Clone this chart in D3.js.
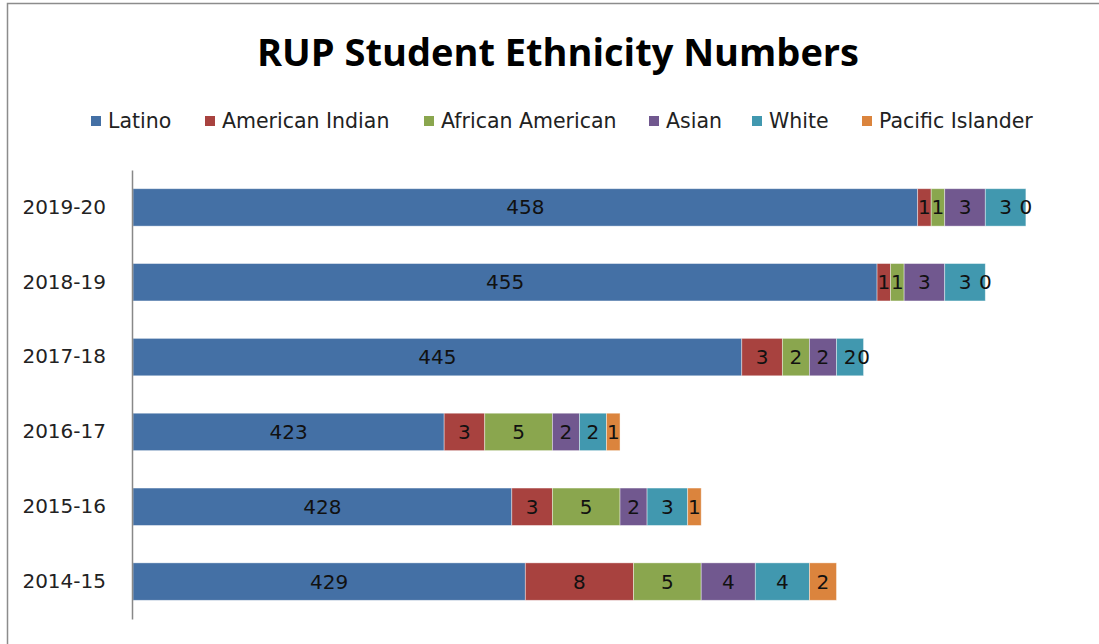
<!DOCTYPE html>
<html><head><meta charset="utf-8">
<script src="https://cdn.jsdelivr.net/npm/d3@7"></script>
<style>body{margin:0;background:#fff;}svg{display:block;}</style>
</head><body>
<svg id="c" width="1099" height="644"></svg>
<script>
const years = ["2019-20","2018-19","2017-18","2016-17","2015-16","2014-15"];
const seriesNames = ["Latino","American Indian","African American","Asian","White","Pacific Islander"];
const latino = [458,455,445,423,428,429];
const americanIndian = [1,1,3,3,3,8];
const africanAmerican = [1,1,2,5,5,5];
const asian = [3,3,2,2,2,4];
const white = [3,3,2,2,3,4];
const pacificIslander = [0,0,0,1,1,2];
const colors = ["#4470a5","#a8423f","#8aa64e","#71588f","#4198af","#db843d"];
const axisMin = 400, axisMax = 470;

const seriesVals = [latino, americanIndian, africanAmerican, asian, white, pacificIslander];
const rows = years.map((y,i)=>{const o={year:y}; seriesNames.forEach((s,j)=>o[s]=seriesVals[j][i]); return o;});
const stack = d3.stack().keys(seriesNames)(rows);

const svg = d3.select("#c");
const font = "'DejaVu Sans', sans-serif";

// outer border
svg.append("rect").attr("x",7.5).attr("y",3.5).attr("width",1120).attr("height",700)
  .attr("fill","none").attr("stroke","#8c8c8c").attr("stroke-width",1.5);

const x = d3.scaleLinear().domain([axisMin, axisMax]).range([133, 1080]);
const y = d3.scaleBand().domain(years).range([170, 619]).paddingInner(0.5).paddingOuter(0.25);

svg.append("text").attr("x",558).attr("y",66).attr("text-anchor","middle")
  .attr("font-family","'Open Sans', sans-serif").attr("font-weight","bold").attr("font-size",38)
  .attr("fill","#000").text("RUP Student Ethnicity Numbers");

// legend
const legendX = [91,205,424,649,752,862];
const lg = svg.append("g");
seriesNames.forEach((s,i)=>{
  lg.append("rect").attr("x",legendX[i]).attr("y",116).attr("width",10).attr("height",10).attr("fill",colors[i]);
  lg.append("text").attr("x",legendX[i]+17).attr("y",128).attr("font-family",font).attr("font-size",20.5)
    .attr("fill","#222").text(s);
});

const layers = svg.append("g").selectAll("g").data(stack).join("g").attr("fill",(d,i)=>colors[i]);
layers.selectAll("rect").data(d=>d).join("rect")
  .attr("x",d=>x(Math.max(axisMin,d[0])))
  .attr("y",d=>y(d.data.year))
  .attr("width",d=>x(d[1])-x(Math.max(axisMin,d[0])))
  .attr("height",y.bandwidth())
  .attr("stroke","rgba(255,255,255,0.5)").attr("stroke-width",0.8);

layers.selectAll("text").data(d=>d).join("text")
  .attr("x",d=>(x(Math.max(axisMin,d[0]))+x(d[1]))/2)
  .attr("y",d=>y(d.data.year)+y.bandwidth()/2+7)
  .attr("text-anchor","middle").attr("font-family",font).attr("font-size",20)
  .attr("fill","#111").text(d=>d[1]-d[0]);

// category axis
const ax = svg.append("g").attr("transform","translate(132,0)").call(d3.axisLeft(y).tickSize(0).tickPadding(26));
ax.select(".domain").attr("stroke","#888").attr("stroke-width",1.5);
ax.selectAll("text").attr("font-family",font).attr("font-size",20).attr("fill","#222");
</script>
</body></html>
